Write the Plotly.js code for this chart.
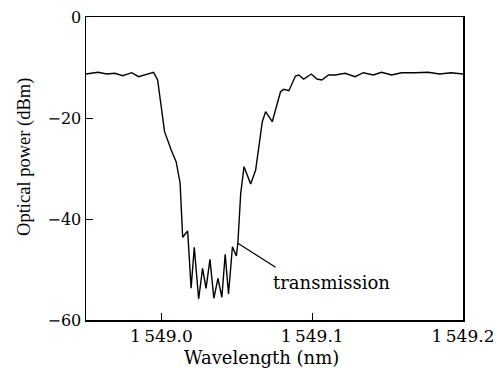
<!DOCTYPE html>
<html>
<head>
<meta charset="utf-8">
<script src="https://cdn.plot.ly/plotly-3.0.1.min.js"></script>
<style>html,body{margin:0;padding:0;background:#fff;}#chart{width:500px;height:368px;}</style>
</head>
<body>
<div id="chart"></div>
<script>
const wavelength = [1548.9500,1548.9579,1548.9638,1548.9691,1548.9744,1548.9803,1548.9849,1548.9902,1548.9948,1548.9975,1548.9998,1549.0021,1549.0065,1549.0098,1549.0124,1549.0141,1549.0174,1549.0197,1549.0218,1549.0247,1549.0273,1549.0296,1549.0322,1549.0348,1549.0375,1549.0401,1549.0423,1549.0445,1549.0471,1549.0497,1549.0507,1549.0526,1549.0548,1549.0592,1549.0625,1549.0669,1549.0691,1549.0735,1549.0790,1549.0812,1549.0845,1549.0889,1549.0911,1549.0944,1549.0994,1549.1031,1549.1064,1549.1108,1549.1152,1549.1219,1549.1284,1549.1339,1549.1405,1549.1460,1549.1526,1549.1592,1549.1680,1549.1768,1549.1845,1549.1921,1549.2000];
const power = [-11.29,-10.95,-11.29,-11.15,-11.62,-11.03,-11.82,-11.29,-10.95,-12.48,-18.02,-22.71,-26.34,-28.71,-32.87,-43.62,-42.38,-53.72,-45.60,-55.84,-49.76,-53.72,-47.98,-55.70,-51.74,-55.50,-46.99,-54.85,-45.49,-47.33,-44.81,-34.91,-29.64,-33.07,-30.30,-20.73,-18.75,-20.73,-14.79,-14.32,-14.59,-11.68,-11.49,-12.28,-11.29,-12.28,-12.48,-11.49,-11.49,-11.15,-11.82,-11.03,-11.49,-10.95,-11.49,-11.03,-11.03,-10.95,-11.29,-11.03,-11.29];
const xTickVals = [1549.0, 1549.1, 1549.2];
const xTickText = ['1\u2009549.0', '1\u2009549.1', '1\u2009549.2'];
const yTickVals = [0, -20, -40, -60];
const xTitle = 'Wavelength (nm)';
const yTitle = 'Optical power (dBm)';
const labelText = 'transmission';
const labelPoint = [1549.0507, -44.81];
const labelLineEnd = [1549.0757, -49.56];
const labelPos = [1549.0730, -52.5];

const fam = 'DejaVu Serif, serif';
const trace = {x: wavelength, y: power, type: 'scatter', mode: 'lines',
  line: {color: '#000', width: 1.4}, hoverinfo: 'skip'};
const layout = {
  width: 500, height: 368,
  margin: {l: 86, r: 37, t: 17, b: 48},
  paper_bgcolor: '#fff', plot_bgcolor: '#fff',
  font: {family: fam, size: 16, color: '#000'},
  showlegend: false,
  xaxis: {range: [1548.95, 1549.2], tickvals: xTickVals, ticktext: xTickText,
    ticks: 'inside', ticklen: 7, tickwidth: 1, tickcolor: '#000',
    showline: true, mirror: true, linecolor: '#000', linewidth: 1.5,
    showgrid: false, zeroline: false, tickfont: {family: fam, size: 17, color: '#000'}},
  yaxis: {range: [-60, 0], tickvals: yTickVals,
    ticks: 'inside', ticklen: 7, tickwidth: 1, tickcolor: '#000',
    showline: true, mirror: true, linecolor: '#000', linewidth: 1.5,
    showgrid: false, zeroline: false, tickfont: {family: fam, size: 16, color: '#000'}},
  shapes: [{type: 'line', xref: 'x', yref: 'y',
    x0: labelPoint[0], y0: labelPoint[1], x1: labelLineEnd[0], y1: labelLineEnd[1],
    line: {color: '#000', width: 1.2}}],
  annotations: [
    {x: labelPos[0], y: labelPos[1], xref: 'x', yref: 'y', text: labelText,
      showarrow: false, xanchor: 'left', yanchor: 'middle', font: {family: fam, size: 18, color: '#000'}},
    {x: 0.4655, y: -0.124, xref: 'paper', yref: 'paper', text: xTitle, showarrow: false,
      xanchor: 'center', yanchor: 'middle', font: {family: fam, size: 18, color: '#000'}},
    {x: -0.162, y: 0.538, xref: 'paper', yref: 'paper', text: yTitle, showarrow: false, textangle: -90,
      xanchor: 'center', yanchor: 'middle', font: {family: 'Liberation Serif, serif', size: 18.5, color: '#000'}}
  ]
};
Plotly.newPlot('chart', [trace], layout, {staticPlot: true, displayModeBar: false});
</script>
</body>
</html>
